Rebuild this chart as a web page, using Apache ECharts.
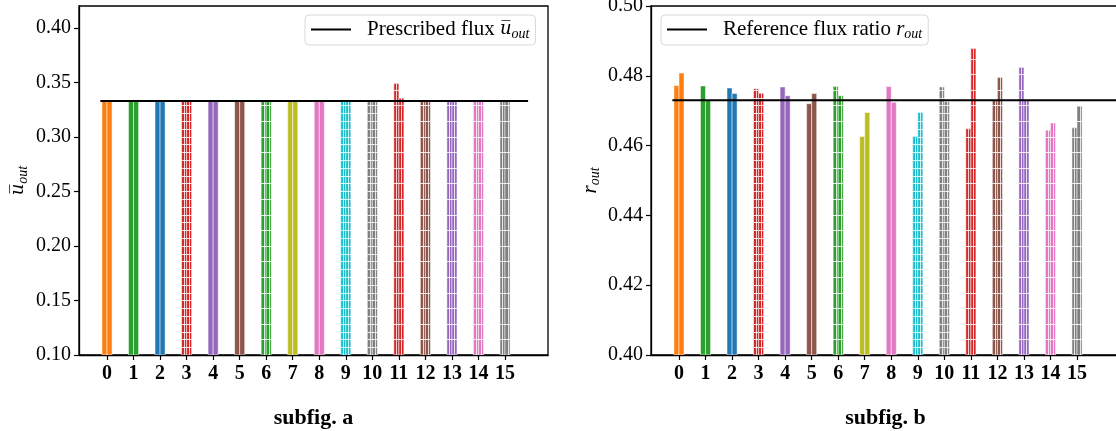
<!DOCTYPE html>
<html>
<head>
<meta charset="utf-8">
<script src="https://cdn.jsdelivr.net/npm/echarts@6/dist/echarts.min.js"></script>
<style>
html,body{margin:0;padding:0;background:#fff;}
#chart{width:1116px;height:431px;}
</style>
</head>
<body>
<div id="chart"></div>
<script>
// ---------- data ----------
const categories = [0,1,2,3,4,5,6,7,8,9,10,11,12,13,14,15];
const fluxA = [0.333,0.333,0.333,0.333,0.333,0.333,0.333,0.333,0.333,0.333,0.333,0.349,0.333,0.333,0.333,0.333];
const fluxB = [0.333,0.333,0.333,0.333,0.333,0.333,0.333,0.333,0.333,0.333,0.333,0.3355,0.333,0.333,0.333,0.333];
const prescribedFlux = 0.333;
const ratioA = [0.4772,0.4771,0.4765,0.4763,0.4768,0.4720,0.4769,0.4626,0.4769,0.4626,0.4768,0.4648,0.4729,0.4824,0.4644,0.4651];
const ratioB = [0.4808,0.4731,0.4749,0.4750,0.4743,0.4749,0.4743,0.4695,0.4724,0.4695,0.4726,0.4878,0.4795,0.4730,0.4665,0.4713];
const referenceRatio = 0.473;
const leftYTicks = [0.10,0.15,0.20,0.25,0.30,0.35,0.40];
const rightYTicks = [0.40,0.42,0.44,0.46,0.48,0.50];

// ---------- styles ----------
const tab = {orange:'#ff7f0e',green:'#2ca02c',blue:'#1f77b4',red:'#d62728',purple:'#9467bd',
  brown:'#8c564b',olive:'#bcbd22',pink:'#e377c2',cyan:'#17becf',gray:'#7f7f7f'};
const barColors = [tab.orange,tab.green,tab.blue,tab.red,tab.purple,tab.brown,tab.green,tab.olive,
  tab.pink,tab.cyan,tab.gray,tab.red,tab.brown,tab.purple,tab.pink,tab.gray];
// hatch spacing in px (0 = none)
const hatchSpacing = [0,0,0,7.8,0,0,15.6,0,0,7.8,7.8,15.6,15.6,15.6,15.6,15.6];
const BW = 0.19;
const SERIF = '"Liberation Serif","DejaVu Serif",serif';

function makeRender(valsA, valsB, base) {
  return function (params, api) {
    const idx = params.dataIndex;
    const x = api.value(0);
    const color = barColors[idx];
    const hs = hatchSpacing[idx];
    const children = [];
    [[valsA[idx], -1], [valsB[idx], 0]].forEach(function (pair) {
      const v = pair[0], side = pair[1];
      const p0 = api.coord([x + side * BW, v]);
      const p1 = api.coord([x + (side + 1) * BW, base]);
      const rx = p0[0], ry = p0[1], rw = p1[0] - p0[0], rh = p1[1] - p0[1];
      children.push({type:'rect', shape:{x:rx, y:ry, width:rw, height:rh},
        style:{fill:color, stroke:'rgba(255,255,255,0.5)', lineWidth:1}});
      if (hs > 0) {
        const cx = Math.round(rx + rw / 2) + 0.5;
        children.push({type:'line', shape:{x1:cx, y1:ry, x2:cx, y2:p1[1]},
          style:{stroke:'rgba(255,255,255,0.8)', lineWidth:1}});
        for (let y = p1[1] - hs; y > ry + 1; y -= hs) {
          const yy = Math.round(y) + 0.5;
          children.push({type:'line', shape:{x1:rx, y1:yy, x2:rx + rw, y2:yy},
            style:{stroke:'rgba(255,255,255,0.85)', lineWidth:1}});
        }
      }
    });
    return {type:'group', children: children};
  };
}

const tickStyle = {show:true, inside:false, length:5, lineStyle:{color:'#000', width:1.2}};
const richName = {
  u:{fontFamily:'"DejaVu Serif",serif', fontStyle:'italic', fontSize:18, color:'#000'},
  r:{fontFamily:SERIF, fontStyle:'italic', fontSize:21, color:'#000'},
  s:{fontFamily:SERIF, fontStyle:'italic', fontSize:14, color:'#000', padding:[9,0,0,0]},
  t:{fontFamily:SERIF, fontSize:21, color:'#000'}
};

function xAxisCfg(gridIndex, name) {
  return {
    type:'value', gridIndex: gridIndex, min:-1.055, max:16.62,
    axisLine:{show:true, onZero:false, lineStyle:{color:'#000', width:1.3}},
    axisTick:Object.assign({customValues: categories}, tickStyle),
    axisLabel:{customValues: categories, fontFamily:SERIF, fontWeight:'bold', fontSize:20, color:'#000', margin:9,
      formatter: function (v) { return String(v); }},
    splitLine:{show:false},
    name: name, nameLocation:'middle', nameGap:52,
    nameTextStyle:{fontFamily:SERIF, fontWeight:'bold', fontSize:22, color:'#000'}
  };
}

const option = {
  animation:false,
  backgroundColor:'#fff',
  grid:[
    {left:79, top:6, width:469, height:349, outerBoundsMode:'none', containLabel:false,
      show:true, borderColor:'#000', borderWidth:1.3, backgroundColor:'transparent'},
    {left:651, top:6, width:469, height:349, outerBoundsMode:'none', containLabel:false,
      show:true, borderColor:'#000', borderWidth:1.3, backgroundColor:'transparent'}
  ],
  xAxis:[ xAxisCfg(0, 'subfig. a'), xAxisCfg(1, 'subfig. b') ],
  yAxis:[
    {type:'value', gridIndex:0, min:0.10, max:0.4202, interval:0.05,
      axisLine:{show:true, onZero:false, lineStyle:{color:'#000', width:1.3}}, axisTick:tickStyle,
      axisLabel:{fontFamily:SERIF, fontSize:20, color:'#000', margin:8, showMaxLabel:false,
        formatter:function(v){return v.toFixed(2);}},
      splitLine:{show:false},
      name:'{u|u\u0305}{s|out}', nameLocation:'middle', nameGap:49, nameRotate:90,
      nameTextStyle:{rich: richName}},
    {type:'value', gridIndex:1, min:0.40, max:0.50, interval:0.02,
      axisLine:{show:true, onZero:false, lineStyle:{color:'#000', width:1.3}}, axisTick:tickStyle,
      axisLabel:{fontFamily:SERIF, fontSize:20, color:'#000', margin:8,
        formatter:function(v){return v.toFixed(2);}},
      splitLine:{show:false},
      name:'{r|r}{s|out}', nameLocation:'middle', nameGap:49, nameRotate:90,
      nameTextStyle:{rich: richName}}
  ],
  legend:[
    {data:['Prescribed flux'], left:305, top:15, orient:'horizontal',
      backgroundColor:'#fff', borderColor:'#d8d8d8', borderWidth:1, borderRadius:4,
      padding:[4,6,4,6], icon:'rect', itemWidth:40, itemHeight:2, itemGap:10,
      formatter:function(){return '{t|Prescribed flux }{u|u\u0305}{s|out}';},
      textStyle:{rich: richName, padding:[0,0,0,11]}},
    {data:['Reference flux ratio'], left:661, top:15, orient:'horizontal',
      backgroundColor:'#fff', borderColor:'#d8d8d8', borderWidth:1, borderRadius:4,
      padding:[4,6,4,6], icon:'rect', itemWidth:40, itemHeight:2, itemGap:10,
      formatter:function(){return '{t|Reference flux ratio }{r|r}{s|out}';},
      textStyle:{rich: richName, padding:[0,0,0,11]}}
  ],
  series:[
    {type:'custom', xAxisIndex:0, yAxisIndex:0, clip:true, z:2,
      data: categories.map(function(c, i){ return [c, fluxA[i], fluxB[i]]; }),
      encode:{x:0, y:[1,2]},
      renderItem: makeRender(fluxA, fluxB, 0.10)},
    {type:'custom', xAxisIndex:1, yAxisIndex:1, clip:true, z:2,
      data: categories.map(function(c, i){ return [c, ratioA[i], ratioB[i]]; }),
      encode:{x:0, y:[1,2]},
      renderItem: makeRender(ratioA, ratioB, 0.40)},
    {name:'Prescribed flux', type:'line', xAxisIndex:0, yAxisIndex:0, z:5, symbol:'none',
      lineStyle:{color:'#000', width:2}, itemStyle:{color:'#000'},
      data:[[-0.25, prescribedFlux],[15.87, prescribedFlux]]},
    {name:'Reference flux ratio', type:'line', xAxisIndex:1, yAxisIndex:1, z:5, symbol:'none',
      lineStyle:{color:'#000', width:2}, itemStyle:{color:'#000'},
      data:[[-0.25, referenceRatio],[16.62, referenceRatio]]}
  ]
};
const chart = echarts.init(document.getElementById('chart'), null, {renderer:'canvas'});
chart.setOption(option);
</script>
</body>
</html>
